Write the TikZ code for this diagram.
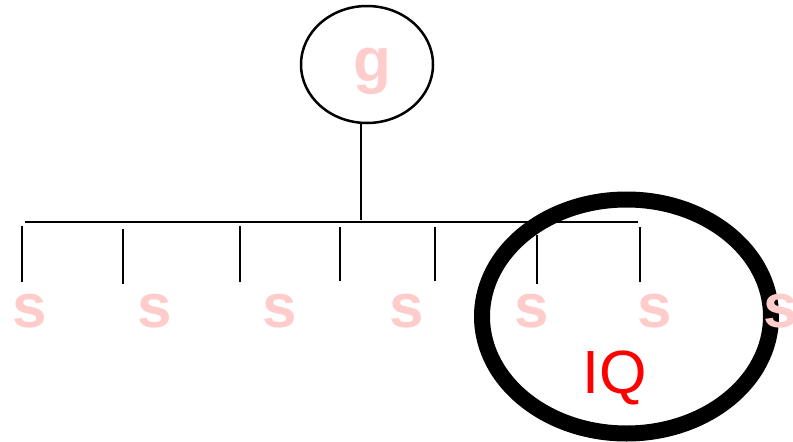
\documentclass[tikz,border=0pt]{standalone}
\usepackage{fontspec}
\setmainfont{Liberation Sans}
\usetikzlibrary{shapes.geometric}
\definecolor{pinks}{RGB}{255,204,204}
\definecolor{iqred}{RGB}{255,0,0}
\begin{document}
\begin{tikzpicture}[x=1pt,y=-1pt,
  thin line/.style={line width=2.5pt,black},
  slabel/.style={anchor=base,inner sep=0pt,text=pinks,font=\bfseries\fontsize{62}{62}\selectfont},
  gnode/.style={draw,ellipse,line width=2.5pt,minimum width=132pt,minimum height=117pt,inner sep=0pt},
  ring/.style={draw,ellipse,line width=16pt,minimum width=289pt,minimum height=234pt,inner sep=0pt}
]
\useasboundingbox (0,0) rectangle (793,442);
% big ring
\node[ring] (ring) at (626.5,316.5) {};
% root node
\node[gnode] (g) at (367,64.5) {};
\node[slabel] (glabel) at (372,81) {g};
% bar
\coordinate (barL) at (25,222);
\coordinate (barR) at (638,222);
\coordinate (barM) at (361,220);
\draw[thin line] (barM |- g.south) -- (barM);
\draw[thin line] (barL) -- (barR);
% ticks
\foreach \i/\x/\ya/\yb in {1/22/226/282, 2/123/229/284, 3/240/226/282, 4/340/227/281, 5/435/227/281, 6/537/235/284, 7/640/227/282} {
  \coordinate (t\i a) at (\x,\ya);
  \coordinate (t\i b) at (\x,\yb);
  \draw[thin line] (t\i a) -- (t\i b);
}
% labels
\foreach \i/\x in {1/30, 2/155, 3/280, 4/407, 5/532, 6/655, 7/781} {
  \node[slabel] (s\i) at (\x,327) {s};
}
\node[anchor=base,inner sep=0pt,text=iqred,font=\fontsize{61}{61}\selectfont] (iq) at (615,393) {IQ};
\end{tikzpicture}
\end{document}
